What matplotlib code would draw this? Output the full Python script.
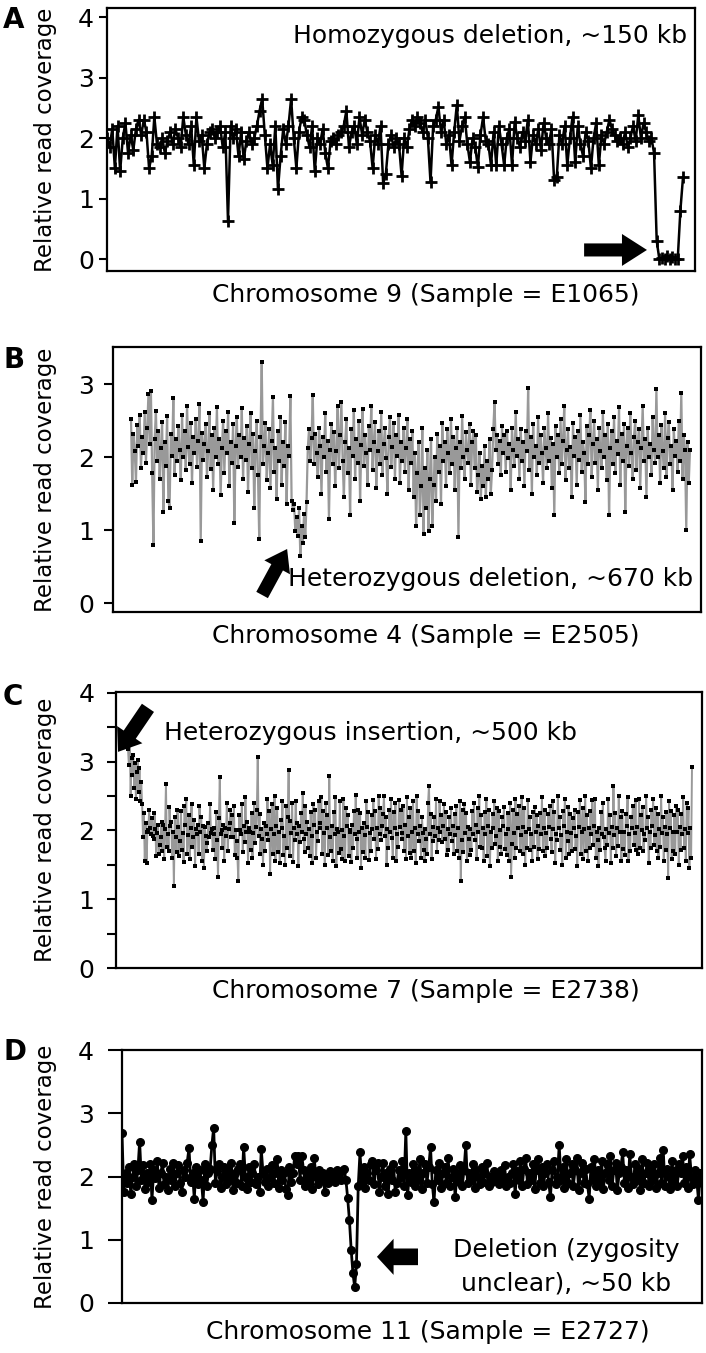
import numpy as np
import matplotlib
matplotlib.use("Agg")
import matplotlib.pyplot as plt
from matplotlib.ticker import MultipleLocator

W, H = 706, 1353

# relative read coverage per bin
cov_a = [2.0, 1.85, 2.15, 1.5, 2.2, 1.45, 2.0, 2.25, 1.75, 2.05, 1.8, 2.15, 2.3, 2.05, 2.3, 2.1, 1.5, 1.7, 2.35, 1.9,
         1.85, 2.0, 1.75, 1.95, 2.1, 1.9, 2.15, 2.0, 1.85, 2.35, 2.05, 1.9, 2.2, 1.55, 2.35, 1.95, 2.05, 1.5, 1.9, 2.1,
         2.15, 2.0, 2.1, 2.2, 1.85, 2.1, 0.63, 2.2, 2.0, 2.15, 1.7, 2.1, 1.65, 1.95, 2.1, 1.9, 2.0, 2.2, 2.45, 2.65,
         2.05, 1.5, 1.9, 1.55, 2.2, 1.15, 1.7, 2.15, 1.9, 2.2, 2.65, 2.0, 1.5, 2.1, 2.35, 2.3, 2.05, 1.85, 2.2, 1.45,
         2.0, 1.9, 2.15, 1.75, 1.5, 1.95, 2.0, 1.9, 2.05, 2.1, 2.2, 2.45, 1.85, 2.1, 2.2, 1.9, 2.35, 2.05, 2.3, 2.1,
         1.95, 1.5, 2.05, 1.9, 2.2, 1.25, 1.4, 1.9, 2.05, 1.85, 2.0, 1.9, 1.38, 2.0, 1.85, 2.15, 2.3, 2.2, 2.35, 2.25,
         2.1, 2.3, 2.0, 1.27, 2.2, 2.3, 2.52, 2.1, 2.3, 1.9, 2.05, 1.55, 2.1, 2.55, 1.95, 2.2, 2.35, 1.9, 1.6, 2.0,
         1.85, 1.52, 2.05, 2.35, 1.95, 1.9, 1.55, 2.1, 1.55, 2.2, 1.9, 1.55, 2.0, 2.15, 1.55, 2.27, 2.0, 1.85, 2.1, 1.95,
         2.3, 1.6, 2.05, 1.9, 2.15, 1.8, 2.25, 2.0, 1.9, 2.15, 1.3, 1.35, 2.05, 1.9, 2.2, 1.55, 2.0, 2.35, 1.6, 2.2,
         1.9, 1.7, 2.1, 1.95, 1.5, 2.0, 2.25, 1.55, 2.05, 1.9, 2.1, 2.3, 2.15, 2.05, 1.95, 2.0, 1.9, 2.1, 1.85, 2.0,
         2.2, 1.95, 2.38, 2.0, 2.25, 2.1, 1.95, 2.0, 1.75, 0.3, 0.0, 0.02, 0.0, 0.05, 0.0, 0.03, 0.0, 0.0, 0.8, 1.35]

cov_b = [2.52, 1.62, 2.31, 2.08, 1.66, 2.44, 2.15, 2.58, 1.85, 2.27, 2.05, 2.62, 1.92, 2.4, 2.86,
         2.18, 2.9, 1.78, 0.8, 2.24, 2.63, 1.95, 2.35, 1.7, 2.12, 2.48, 1.25, 2.2, 1.88, 2.56,
         1.4, 1.3, 2.32, 2.02, 2.81, 1.75, 2.25, 1.95, 2.43, 2.1, 1.68, 2.58, 2.0, 2.36, 1.82,
         2.7, 2.14, 1.9, 2.47, 1.64, 2.28, 2.06, 2.52, 1.87, 2.22, 2.72, 0.85, 2.33, 1.96, 2.18,
         2.45, 1.72, 2.08, 2.6, 1.83, 2.3, 1.55, 2.4, 2.0, 2.68, 1.9, 2.24, 1.48, 2.12, 2.5,
         1.78, 2.35, 2.05, 2.62, 1.6, 2.2, 1.92, 2.45, 1.1, 2.15, 2.55, 1.86, 2.3, 2.0, 2.67,
         1.7, 2.26, 1.96, 2.42, 1.52, 2.18, 2.6, 1.85, 2.32, 1.3, 2.08, 2.5, 1.75, 0.88, 2.28,
         3.3, 1.9, 2.15, 2.46, 1.68, 2.05, 2.38, 1.58, 2.22, 2.82, 1.8, 2.12, 1.42, 2.35, 1.95,
         2.55, 1.62, 2.2, 1.88, 2.48, 1.35, 2.15, 2.02, 2.84, 1.4, 1.28, 1.36, 0.98, 1.18, 0.92,
         1.3, 0.65, 1.05, 0.82, 1.22, 0.9, 1.38, 2.12, 2.38, 1.95, 2.26, 2.85, 1.9, 2.32, 2.05,
         1.72, 2.4, 2.15, 1.5, 2.28, 2.0, 2.6, 1.8, 2.22, 1.15, 2.1, 2.45, 1.9, 2.34, 1.6,
         2.08, 2.7, 1.85, 2.3, 2.75, 1.95, 1.45, 2.2, 2.52, 1.78, 2.12, 1.2, 2.38, 2.02, 2.64,
         1.7, 2.25, 1.92, 2.5, 1.4, 2.16, 2.66, 1.88, 2.3, 2.05, 1.62, 2.42, 2.1, 2.7, 1.82,
         2.2, 2.48, 1.58, 2.08, 2.35, 1.9, 2.62, 1.75, 2.18, 2.4, 1.98, 1.5, 2.28, 2.55, 1.86,
         2.14, 2.46, 1.7, 2.3, 2.02, 2.58, 1.64, 2.2, 1.95, 2.4, 1.8, 2.12, 2.52, 1.55, 2.25,
         1.92, 2.36, 1.45, 2.05, 1.05, 1.78, 2.2, 1.2, 1.6, 2.4, 0.95, 1.85, 1.3, 2.1, 0.98,
         1.7, 2.25, 1.05, 1.62, 2.0, 1.4, 2.32, 1.8, 2.15, 1.35, 2.46, 1.95, 2.2, 1.6, 2.38,
         2.05, 1.78, 2.52, 1.9, 2.28, 1.55, 2.12, 2.4, 0.9, 2.2, 1.85, 2.56, 2.0, 1.7, 2.34,
         2.1, 1.92, 2.45, 1.62, 2.2, 2.35, 1.85, 2.3, 1.52, 1.75, 2.05, 1.42, 1.88, 1.6, 2.15,
         1.45, 1.95, 1.7, 2.25, 1.5, 1.82, 2.38, 2.75, 2.1, 2.3, 1.9, 2.22, 1.75, 2.42, 2.05,
         2.3, 1.8, 2.36, 1.98, 2.18, 1.55, 2.4, 2.1, 1.88, 2.62, 2.02, 2.25, 1.7, 2.38, 1.95,
         2.2, 1.6, 2.35, 2.08, 2.95, 1.82, 2.28, 1.5, 2.45, 2.0, 2.15, 1.75, 2.55, 1.92, 2.3,
         2.05, 1.65, 2.4, 2.12, 1.85, 2.6, 1.95, 2.26, 1.58, 2.18, 1.2, 2.42, 2.0, 2.3, 1.78,
         2.52, 1.9, 2.22, 2.7, 1.68, 2.1, 2.38, 1.85, 2.14, 1.45, 2.46, 2.02, 2.28, 1.62, 2.35,
         1.96, 2.58, 1.8, 2.2, 2.06, 1.38, 2.42, 1.9, 2.3, 2.65, 1.72, 2.18, 2.5, 1.92, 2.24,
         1.55, 2.4, 2.08, 1.85, 2.62, 2.0, 2.3, 1.68, 2.45, 1.2, 2.12, 2.36, 1.9, 2.55, 1.78,
         2.22, 2.04, 2.68, 1.62, 2.32, 1.95, 2.45, 1.25, 2.15, 2.4, 1.88, 2.6, 2.05, 1.7, 2.28,
         2.5, 1.82, 2.2, 2.38, 1.58, 2.12, 2.7, 1.95, 2.25, 1.45, 2.4, 2.0, 2.18, 1.76, 2.55,
         2.1, 1.92, 2.93, 2.0, 2.3, 1.65, 2.44, 2.08, 1.85, 2.6, 1.72, 2.26, 2.48, 1.9, 2.15,
         1.55, 2.38, 2.02, 2.22, 1.8, 2.5, 1.95, 2.88, 1.7, 2.3, 2.1, 1.0, 2.2, 1.65, 2.1]

cov_c = [3.18, 2.95, 3.25, 2.5, 3.05, 2.8, 3.1, 2.62, 2.98, 2.45, 2.85, 3.02, 2.55, 2.9, 2.42, 2.7, 2.38, 1.9, 2.25, 1.55,
         2.1, 1.52, 1.98, 2.0, 2.3, 2.04, 1.95, 2.18, 1.92, 1.88, 2.25, 2.02, 1.62, 1.96, 2.08, 1.65, 1.78, 1.9, 2.12, 1.7,
         2.08, 1.58, 2.02, 2.67, 1.76, 1.94, 1.7, 2.34, 2.06, 2.12, 1.6, 1.98, 1.19, 2.2, 1.9, 1.68, 2.3, 2.05, 1.62, 1.85,
         2.28, 1.72, 1.96, 1.54, 2.35, 2.08, 2.45, 1.66, 1.93, 2.22, 1.58, 2.04, 2.38, 1.76, 1.9, 2.15, 1.48, 2.02, 1.95, 2.08,
         1.66, 2.35, 1.98, 2.2, 1.55, 2.06, 1.45, 2.05, 1.92, 1.7, 1.82, 2.1, 1.9, 2.38, 1.96, 2.02, 1.72, 2.04, 1.94, 1.58,
         2.26, 1.86, 1.32, 2.18, 2.78, 1.95, 2.0, 1.75, 2.08, 1.56, 2.04, 1.92, 2.4, 1.7, 2.02, 2.1, 2.3, 1.9, 2.22, 1.9,
         2.36, 1.64, 2.0, 1.85, 1.6, 1.27, 2.22, 2.0, 1.94, 2.38, 1.68, 2.06, 1.83, 2.48, 1.98, 2.12, 1.52, 2.04, 1.98, 1.72,
         2.25, 1.6, 1.96, 2.4, 1.82, 2.05, 2.3, 3.07, 1.92, 2.24, 1.65, 2.02, 1.88, 1.5, 2.1, 1.7, 2.06, 1.95, 2.46, 1.86,
         2.28, 1.37, 2.02, 2.38, 1.66, 1.94, 2.5, 1.56, 2.06, 2.32, 1.68, 1.98, 1.52, 2.15, 2.04, 2.42, 1.64, 1.92, 1.5, 2.36,
         1.75, 2.2, 2.88, 1.62, 2.13, 1.96, 2.4, 1.54, 2.04, 1.86, 2.42, 1.94, 2.1, 1.48, 2.06, 1.83, 2.25, 1.98, 2.54, 1.88,
         1.68, 2.36, 1.95, 2.12, 1.74, 2.02, 1.63, 2.26, 1.92, 1.52, 2.38, 2.08, 2.3, 1.6, 1.97, 1.85, 2.42, 2.03, 2.1, 2.48,
         1.66, 2.28, 1.96, 1.5, 2.4, 2.04, 2.23, 1.64, 2.79, 1.9, 1.7, 2.06, 1.56, 2.26, 1.94, 2.48, 1.48, 2.02, 1.98, 1.67,
         2.42, 1.73, 2.0, 1.59, 2.45, 1.92, 1.55, 2.32, 2.06, 2.22, 1.62, 1.98, 2.0, 1.54, 2.08, 1.74, 2.28, 1.95, 2.52, 1.88,
         1.6, 2.3, 1.97, 2.25, 1.46, 2.04, 1.68, 2.1, 1.93, 1.6, 2.42, 2.05, 2.26, 1.57, 1.96, 1.7, 2.22, 2.02, 2.44, 1.87,
         2.28, 1.58, 2.04, 1.73, 2.5, 1.95, 2.32, 1.86, 2.06, 2.24, 2.5, 1.92, 2.2, 1.5, 2.02, 1.74, 2.3, 1.97, 2.46, 1.89,
         1.6, 2.26, 2.03, 2.4, 1.55, 1.94, 1.76, 2.44, 2.05, 2.3, 1.88, 1.96, 2.35, 1.7, 2.08, 1.58, 2.48, 1.92, 2.2, 1.67,
         2.32, 1.6, 1.98, 2.42, 1.7, 2.04, 1.52, 2.5, 1.94, 2.28, 1.85, 2.06, 1.6, 2.2, 1.96, 1.72, 1.56, 2.02, 1.87, 1.66,
         2.4, 2.65, 1.95, 2.24, 1.58, 2.05, 1.85, 2.2, 1.92, 2.46, 1.68, 2.03, 1.86, 2.42, 1.97, 2.22, 1.83, 2.06, 2.38, 1.88,
         2.26, 1.64, 2.02, 1.72, 2.2, 1.95, 2.32, 1.85, 2.07, 1.66, 2.24, 1.93, 2.36, 1.7, 2.04, 1.6, 2.42, 1.27, 1.86, 2.3,
         1.68, 2.38, 1.96, 2.25, 1.55, 2.05, 1.88, 1.64, 2.02, 1.72, 2.28, 1.94, 2.4, 1.86, 2.08, 1.58, 2.32, 1.97, 2.5, 1.76,
         2.22, 1.75, 2.03, 1.55, 2.26, 1.95, 2.46, 1.62, 2.06, 2.3, 1.48, 1.98, 1.74, 2.24, 2.04, 2.42, 1.8, 1.92, 2.32, 1.55,
         2.28, 1.76, 2.0, 1.66, 2.2, 2.06, 2.34, 1.73, 1.94, 1.64, 2.25, 2.02, 1.56, 2.4, 1.32, 1.8, 2.3, 1.96, 1.6, 2.46,
         1.74, 2.24, 2.04, 2.36, 1.7, 1.93, 2.48, 1.65, 2.05, 2.32, 1.5, 1.97, 1.75, 2.44, 2.02, 2.2, 1.72, 1.95, 1.55, 2.26,
         1.76, 2.34, 1.98, 2.22, 1.58, 2.06, 1.73, 2.25, 1.94, 2.48, 1.7, 2.03, 2.3, 1.62, 1.96, 1.75, 2.24, 2.05, 2.36, 1.88,
         1.68, 2.42, 2.02, 2.26, 1.52, 1.95, 1.86, 2.5, 2.04, 2.2, 1.72, 1.93, 1.5, 2.28, 2.06, 2.46, 1.6, 1.98, 1.85, 2.34,
         1.66, 2.24, 1.96, 1.7, 2.18, 2.04, 2.3, 1.73, 1.92, 1.48, 2.26, 2.05, 2.44, 1.65, 1.97, 2.32, 1.58, 2.02, 2.5, 1.7,
         2.22, 1.55, 2.04, 1.75, 2.28, 1.94, 2.44, 1.78, 2.06, 2.46, 1.6, 1.98, 1.86, 1.48, 2.03, 1.72, 2.26, 1.95, 2.4, 1.9,
         1.74, 1.56, 2.02, 1.78, 2.46, 1.96, 2.22, 1.52, 2.05, 1.75, 2.65, 1.93, 2.25, 1.62, 2.04, 1.77, 2.5, 1.97, 2.2, 1.56,
         2.28, 1.73, 1.98, 1.64, 2.24, 2.06, 2.48, 1.55, 1.94, 1.7, 2.2, 2.03, 2.36, 1.78, 1.96, 2.44, 1.72, 2.05, 1.66, 2.46,
         1.75, 2.22, 2.0, 2.34, 1.7, 1.95, 1.86, 2.5, 2.04, 2.2, 1.52, 1.97, 1.74, 2.3, 2.06, 2.46, 1.78, 1.93, 2.32, 1.7,
         2.24, 1.6, 2.02, 1.76, 2.5, 1.96, 2.2, 1.56, 2.05, 1.72, 2.26, 1.94, 1.31, 2.42, 2.03, 2.28, 1.58, 1.98, 1.7, 2.22,
         1.66, 2.36, 1.97, 2.3, 1.5, 2.05, 1.72, 2.24, 1.94, 2.48, 1.75, 2.02, 1.56, 2.4, 1.96, 2.32, 1.45, 2.04, 1.6, 2.92]

cov_d = [2.68, 1.75, 2.05, 1.9, 2.15, 1.72, 2.0, 2.2, 1.85, 2.1, 2.55, 1.95, 2.18, 1.8, 2.05,
         1.92, 2.2, 1.63, 2.1, 1.98, 2.25, 1.82, 2.05, 2.22, 1.88, 2.0, 1.78, 2.12, 1.95, 2.22,
         1.85, 2.05, 2.18, 1.9, 1.75, 2.1, 2.0, 2.22, 2.45, 1.92, 2.05, 1.65, 2.15, 1.88, 2.1,
         1.95, 1.6, 2.2, 1.85, 2.05, 2.12, 2.5, 2.77, 1.9, 2.08, 2.2, 1.82, 2.0, 2.15, 1.88,
         2.1, 1.95, 2.22, 1.78, 2.05, 1.9, 2.12, 2.2, 1.85, 2.47, 2.0, 1.8, 2.15, 1.92, 2.05,
         2.2, 1.88, 2.0, 1.75, 2.43, 2.05, 1.92, 2.12, 1.85, 2.0, 2.18, 1.9, 2.05, 2.28, 1.82,
         2.1, 1.95, 2.05, 1.8, 1.7, 2.15, 1.92, 2.05, 2.33, 2.2, 2.33, 1.95, 2.32, 2.1, 1.85,
         2.05, 1.92, 2.15, 1.8, 2.3, 2.0, 1.88, 2.1, 1.95, 2.05, 1.75, 2.0, 1.9, 2.08, 1.98,
         2.05, 1.92, 2.1, 2.0, 1.95, 2.08, 2.12, 1.95, 1.66, 1.31, 0.84, 0.47, 0.25, 0.62, 1.85,
         2.38, 1.9, 2.15, 1.82, 2.05, 1.95, 2.2, 2.25, 1.88, 2.1, 2.22, 1.75, 2.0, 2.22, 1.85,
         2.05, 1.72, 2.12, 1.95, 2.2, 1.75, 1.9, 2.1, 2.0, 2.25, 1.85, 2.72, 1.7, 2.05, 1.92,
         2.2, 1.85, 2.1, 1.95, 2.28, 1.8, 2.05, 2.2, 1.9, 2.15, 2.47, 1.88, 1.6, 2.1, 1.95,
         2.22, 1.82, 2.05, 2.15, 1.9, 2.3, 1.85, 2.0, 2.12, 1.67, 2.05, 1.92, 2.18, 1.85, 2.1,
         2.5, 1.9, 2.05, 1.95, 2.2, 1.82, 2.1, 2.0, 1.88, 2.15, 1.92, 2.05, 2.22, 1.85, 2.0,
         1.92, 2.08, 1.95, 2.02, 1.88, 2.1, 1.95, 2.18, 1.85, 2.0, 1.9, 2.05, 2.2, 1.72, 2.08,
         1.95, 2.25, 1.85, 2.12, 2.3, 1.88, 2.05, 1.95, 2.2, 1.8, 2.1, 2.28, 1.9, 2.15, 1.85,
         2.05, 2.2, 1.92, 1.67, 2.1, 2.25, 1.88, 2.0, 2.5, 1.95, 2.15, 1.82, 2.28, 1.9, 2.05,
         2.2, 1.85, 2.1, 2.3, 1.78, 2.05, 2.22, 1.9, 2.12, 1.88, 1.65, 2.15, 1.95, 2.28, 1.85,
         2.1, 1.92, 2.25, 1.8, 2.05, 2.2, 1.95, 2.32, 1.85, 2.1, 2.22, 1.78, 2.05, 2.15, 2.38,
         1.9, 2.1, 1.82, 2.35, 2.0, 1.88, 2.2, 1.95, 2.12, 1.78, 2.28, 1.9, 2.05, 2.22, 1.85,
         2.1, 1.95, 2.2, 1.82, 2.05, 2.3, 1.9, 2.42, 1.85, 2.12, 2.0, 1.8, 2.25, 1.92, 2.1,
         1.85, 2.2, 2.05, 2.33, 1.9, 2.15, 1.82, 2.35, 2.0, 1.88, 2.1, 1.95, 1.63, 2.05, 1.9]

letters = ["A", "B", "C", "D"]
chrom_labels = ["Chromosome 9 (Sample = E1065)", "Chromosome 4 (Sample = E2505)",
                "Chromosome 7 (Sample = E2738)", "Chromosome 11 (Sample = E2727)"]
notes = ["Homozygous deletion, ~150 kb", "Heterozygous deletion, ~670 kb",
         "Heterozygous insertion, ~500 kb", "Deletion (zygosity\nunclear), ~50 kb"]
ylab = "Relative read coverage"


def fx(px):
    return px / W


def fy(py):
    return 1 - py / H


def box(l, t, r, b):
    return [fx(l), fy(b), (r - l) / W, (b - t) / H]


def style(ax, ticks, tlen, pad):
    for s in ax.spines.values():
        s.set_linewidth(1.6)
    ax.set_xticks([])
    ax.set_yticks(ticks)
    ax.tick_params(axis="y", which="both", direction="out", length=tlen,
                   width=1.5, pad=pad, labelsize=18)


def arrow(ax, tip, tail, hl, hw, tw):
    ax.annotate("", xy=tip, xytext=tail,
                arrowprops=dict(arrowstyle="simple,head_length=%g,head_width=%g,tail_width=%g" % (hl, hw, tw),
                                mutation_scale=1, fc="k", ec="none", shrinkA=0, shrinkB=0))


def dense(ax, vals, lw=1.6):
    # grey connecting line with small black squares, as in panels B and C
    x = np.arange(len(vals))
    ax.plot(x, vals, color="#999999", lw=lw, zorder=1)
    ax.plot(x, vals, ls="none", marker="s", ms=2.7, mew=0, color="k", zorder=2)


fig = plt.figure(figsize=(W / 100, H / 100), dpi=100)

# ---- A
ax = fig.add_axes(box(107, 8, 695, 271))
x = np.arange(len(cov_a))
ax.plot(x, cov_a, color="k", lw=1.8, marker="+", ms=8, mew=2.0)
n = len(cov_a) - 1
ax.set_xlim(0, n * 588 / 576)
ax.set_ylim(-0.198, 4.149)
style(ax, [0, 1, 2, 3, 4], 5.8, 3.5)
ax.text(0.986, 0.868, notes[0], transform=ax.transAxes, ha="right", va="baseline", fontsize=18)
arrow(ax, (205.3, 0.15), (181.4, 0.15), 18, 23, 9.4)

# ---- B
ax = fig.add_axes(box(113, 347, 701, 612))
dense(ax, cov_b)
n = len(cov_b) - 1
ax.set_xlim(-18 / 559 * n, n + 11 / 559 * n)
ax.set_ylim(-0.123, 3.507)
style(ax, [0, 1, 2, 3], 6.5, 7.0)
arrow(ax, (125.4, 0.74), (105.3, 0.11), 15, 21, 9.5)

# ---- C
ax = fig.add_axes(box(116, 692, 702, 968))
dense(ax, cov_c, lw=1.4)
n = len(cov_c) - 1
ax.set_xlim(-12 / 564 * n, n + 10 / 564 * n)
ax.set_ylim(0, 4.01)
style(ax, [0, 1, 2, 3, 4], 6.5, 9)
ax.yaxis.set_minor_locator(MultipleLocator(0.5))
arrow(ax, (-11.3, 3.14), (22.6, 3.78), 15, 22, 10.5)

# ---- D
ax = fig.add_axes(box(122, 1050, 702, 1303))
x = np.arange(len(cov_d))
ax.plot(x, cov_d, color="k", lw=2.0, marker="o", ms=5.5, zorder=2)
n = len(cov_d) - 1
ax.set_xlim(0, n)
ax.set_ylim(0, 4)
style(ax, [0, 1, 2, 3, 4], 10, 10)
arrow(ax, (144.6, 0.73), (167.9, 0.73), 12, 26, 12)

# panel letters, axis titles and notes placed in figure pixels
for lt, yb in zip(letters, [28, 368, 705, 1060]):
    fig.text(fx(3), fy(yb), lt, fontsize=20, fontweight="bold", va="baseline", ha="left")
for lab, xc, yb in zip(chrom_labels, [426, 426, 426, 428], [302, 643, 998, 1339]):
    fig.text(fx(xc), fy(yb), lab, fontsize=18, ha="center", va="baseline")
for yc in [139.5, 479.5, 830, 1176.5]:
    fig.text(fx(46), fy(yc), ylab, fontsize=16.5, rotation=90, ha="center", va="center")

fig.text(fx(693), fy(586), notes[1], fontsize=18, ha="right", va="baseline")
fig.text(fx(164), fy(740), notes[2], fontsize=18, ha="left", va="baseline")
fig.text(fx(566), fy(1290), notes[3], fontsize=18, ha="center", va="baseline",
         multialignment="center", linespacing=1.45)

fig.savefig("out.png", dpi=100)
